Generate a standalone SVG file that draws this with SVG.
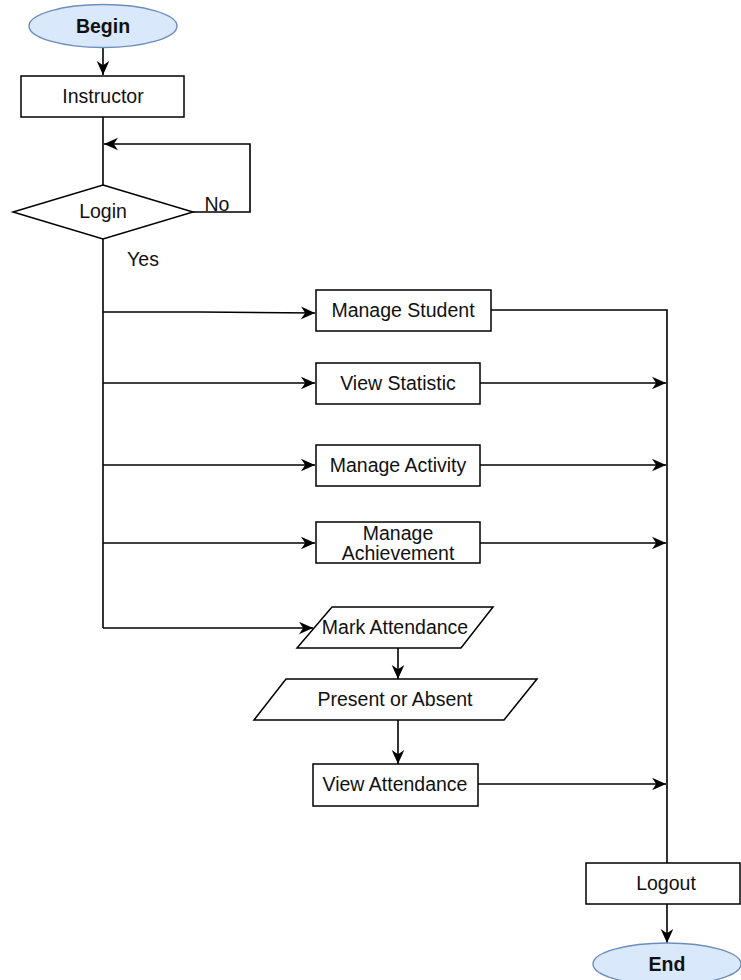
<svg xmlns="http://www.w3.org/2000/svg" width="741" height="980" viewBox="0 0 741 980">
<style>
.n{fill:#fff;stroke:#000;stroke-width:1.5}
.t{fill:#dae8fc;stroke:#6c8ebf;stroke-width:1.4}
.c{fill:none;stroke:#000;stroke-width:1.6}
text{font-family:"Liberation Sans",Arial,sans-serif;font-size:19.5px;fill:#111;text-anchor:middle}
.b{font-weight:bold}
</style>
<defs>
<marker id="a" viewBox="0 0 10 10" refX="10" refY="5" markerWidth="14" markerHeight="14" markerUnits="userSpaceOnUse" orient="auto">
<path d="M0,0.5 L10,5 L0,9.5 L3,5 z" fill="#000"/>
</marker>
</defs>
<rect width="741" height="980" fill="#fff"/>
<g id="connectors">
<path class="c" d="M103,48 V75" marker-end="url(#a)"/>
<path class="c" d="M103,117 V185"/>
<path class="c" d="M193,212 H250 V144 H104" marker-end="url(#a)"/>
<path class="c" d="M103,239 V628"/>
<path class="c" d="M103,312 H200 L315,313" marker-end="url(#a)"/>
<path class="c" d="M103,383 H315" marker-end="url(#a)"/>
<path class="c" d="M103,465 H315" marker-end="url(#a)"/>
<path class="c" d="M103,543 H315" marker-end="url(#a)"/>
<path class="c" d="M103,628 H313" marker-end="url(#a)"/>
<path class="c" d="M491,310 H667 V863"/>
<path class="c" d="M480,383 H666" marker-end="url(#a)"/>
<path class="c" d="M480,465 H666" marker-end="url(#a)"/>
<path class="c" d="M480,543 H666" marker-end="url(#a)"/>
<path class="c" d="M478,784 H666" marker-end="url(#a)"/>
<path class="c" d="M398,648 V679" marker-end="url(#a)"/>
<path class="c" d="M398,720 V764" marker-end="url(#a)"/>
<path class="c" d="M667,904 V943" marker-end="url(#a)"/>
<text x="217" y="211">No</text>
<text x="143" y="266">Yes</text>
</g>
<g id="begin"><ellipse class="t" cx="103" cy="26" rx="74" ry="21.5"/><text class="b" x="103" y="33">Begin</text></g>
<g id="instructor"><rect class="n" x="21" y="76" width="163" height="41"/><text x="103" y="103">Instructor</text></g>
<g id="login"><polygon class="n" points="103,185 193,212 103,239 13,212"/><text x="103" y="218">Login</text></g>
<g id="manage-student"><rect class="n" x="316" y="290" width="175" height="41"/><text x="403" y="317">Manage Student</text></g>
<g id="view-statistic"><rect class="n" x="316" y="363" width="164" height="41"/><text x="398" y="390">View Statistic</text></g>
<g id="manage-activity"><rect class="n" x="316" y="445" width="164" height="41"/><text x="398" y="472">Manage Activity</text></g>
<g id="manage-achievement"><rect class="n" x="316" y="522" width="164" height="41"/><text x="398" y="540">Manage</text><text x="398" y="560">Achievement</text></g>
<g id="mark-attendance"><polygon class="n" points="332,607 493,607 461,648 297,648"/><text x="395" y="634">Mark Attendance</text></g>
<g id="present-absent"><polygon class="n" points="286,679 537,679 504,720 254,720"/><text x="395" y="706">Present or Absent</text></g>
<g id="view-attendance"><rect class="n" x="313" y="764" width="165" height="42"/><text x="395" y="791">View Attendance</text></g>
<g id="logout"><rect class="n" x="586" y="863" width="154" height="41"/><text x="666" y="890">Logout</text></g>
<g id="end"><ellipse class="t" cx="667" cy="964" rx="74" ry="21"/><text class="b" x="667" y="971">End</text></g>
</svg>
